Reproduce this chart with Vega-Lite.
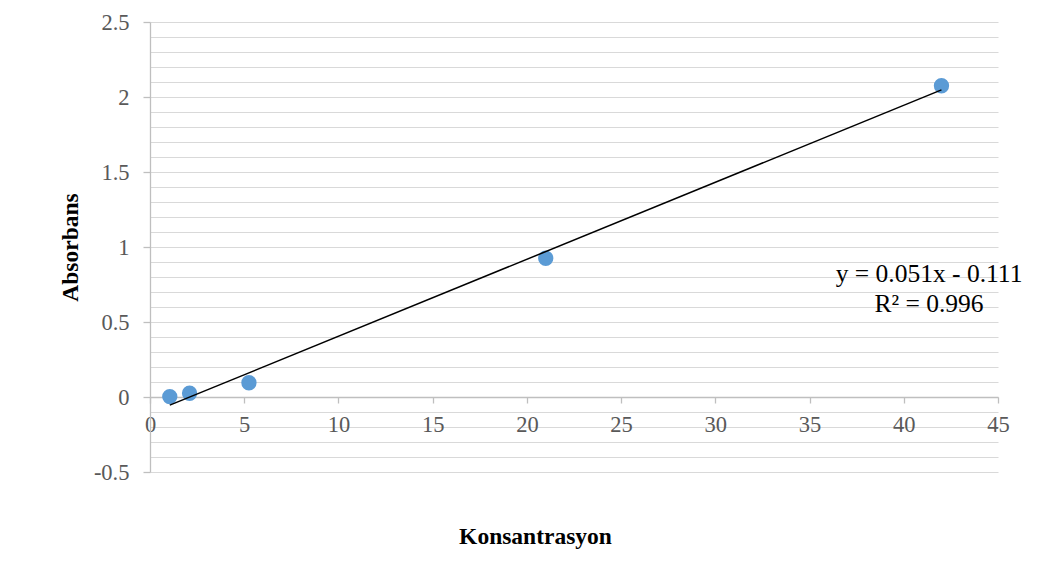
{
  "$schema": "https://vega.github.io/schema/vega-lite/v6.json",
  "width": 848,
  "height": 450,
  "autosize": {"type": "none"},
  "padding": {"left": 150, "top": 22, "right": 47, "bottom": 106},
  "background": "white",
  "config": {
    "view": {"stroke": null},
    "font": "Liberation Serif",
    "axis": {"labelFont": "Liberation Serif", "titleFont": "Liberation Serif"}
  },
  "data": {
    "values": [
      {"x": 1.05, "y": 0.003},
      {"x": 2.1, "y": 0.025},
      {"x": 5.25, "y": 0.095},
      {"x": 21.0, "y": 0.925},
      {"x": 42.0, "y": 2.075}
    ]
  },
  "encoding": {
    "x": {
      "field": "x",
      "type": "quantitative",
      "scale": {"domain": [0, 45], "nice": false, "zero": false},
      "axis": {
        "title": "Konsantrasyon",
        "offset": -75,
        "values": [0, 5, 10, 15, 20, 25, 30, 35, 40, 45],
        "grid": false,
        "domainColor": "#bfbfbf",
        "domainWidth": 1.3,
        "tickColor": "#bfbfbf",
        "tickWidth": 1.3,
        "tickSize": 6,
        "labelFontSize": 22.5,
        "labelColor": "#595959",
        "labelPadding": 10,
        "labelFlush": false,
        "titleFontSize": 23.5,
        "titleFontWeight": "bold",
        "titleColor": "#000000",
        "titleX": 385,
        "titleY": 146,
        "titleBaseline": "alphabetic",
        "titleAlign": "center"
      }
    },
    "y": {
      "field": "y",
      "type": "quantitative",
      "scale": {"domain": [-0.5, 2.5], "nice": false, "zero": false},
      "axis": {
        "title": "Absorbans",
        "values": [-0.5, -0.4, -0.3, -0.2, -0.1, 0, 0.1, 0.2, 0.3, 0.4, 0.5, 0.6, 0.7, 0.8, 0.9, 1, 1.1, 1.2, 1.3, 1.4, 1.5, 1.6, 1.7, 1.8, 1.9, 2, 2.1, 2.2, 2.3, 2.4, 2.5],
        "labelExpr": "abs(datum.value*2 - round(datum.value*2)) < 0.001 ? '' + datum.value : ''",
        "grid": true,
        "gridColor": "#d9d9d9",
        "gridWidth": 1.2,
        "domainColor": "#bfbfbf",
        "domainWidth": 1.3,
        "tickColor": "#bfbfbf",
        "tickWidth": 1.3,
        "tickSize": 7,
        "tickOpacity": {"condition": {"test": "abs(datum.value*2 - round(datum.value*2)) < 0.001", "value": 1}, "value": 0},
        "labelFontSize": 22.5,
        "labelColor": "#595959",
        "labelPadding": 14,
        "labelFlush": false,
        "titleFontSize": 23.5,
        "titleFontWeight": "bold",
        "titleColor": "#000000",
        "titleX": -73,
        "titleY": 225,
        "titleAngle": -90,
        "titleBaseline": "alphabetic",
        "titleAlign": "center"
      }
    }
  },
  "layer": [
    {
      "mark": {"type": "point", "filled": true, "size": 235, "color": "#5B9BD5", "opacity": 1, "shape": "circle"}
    },
    {
      "transform": [{"regression": "y", "on": "x"}],
      "mark": {"type": "line", "color": "#000000", "strokeWidth": 1.5}
    },
    {
      "data": {
        "values": [
          {"x": 41.34, "y": 0.765, "label": "y = 0.051x - 0.111"},
          {"x": 41.34, "y": 0.565, "label": "R² = 0.996"}
        ]
      },
      "mark": {"type": "text", "font": "Liberation Serif", "fontSize": 25.5, "color": "#000000", "align": "center", "baseline": "alphabetic"},
      "encoding": {"text": {"field": "label", "type": "nominal"}}
    }
  ]
}
